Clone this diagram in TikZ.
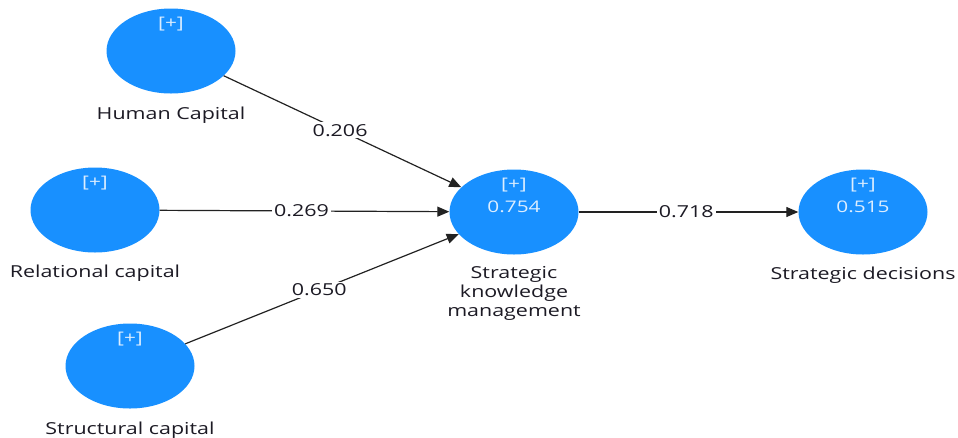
\documentclass[tikz,border=0pt]{standalone}
\usepackage{fontspec}
\setmainfont[FakeStretch=1.3]{Open Sans}
\usetikzlibrary{shapes.geometric,arrows.meta}
\definecolor{lvblue}{HTML}{1890FF}
\definecolor{lvtext}{HTML}{DCEEFF}
\definecolor{ink}{HTML}{1C1A24}
\definecolor{pathline}{HTML}{222222}
\tikzset{
  latent/.style={ellipse, fill=lvblue, minimum width=129pt, minimum height=85pt, inner sep=0pt},
  inner/.style={text=lvtext, font=\fontsize{16}{18}\selectfont, inner sep=0pt},
  caption/.style={text=ink, font=\fontsize{16.5}{19}\selectfont, align=center, inner sep=0pt},
  path/.style={draw=pathline, line width=1.2pt, -{Triangle[length=12pt,width=10pt]}},
  coef/.style={fill=white, text=ink, font=\fontsize{16.5}{18}\selectfont, inner sep=2pt, pos=0.49}
}
\begin{document}
\begin{tikzpicture}[x=1pt,y=-1pt]
\useasboundingbox (0,0) rectangle (958,437);

% constructs
\node[latent] (hc) at (171,51) {};
\node[latent] (rc) at (95,210) {};
\node[latent] (sc) at (130,366) {};
\node[latent] (skm) at (514,212) {};
\node[latent] (sd) at (863,212) {};

% markers and R-squared values
\node[inner] (hcp) at (171,24) {[+]};
\node[inner] (rcp) at (95,183) {[+]};
\node[inner] (scp) at (130,339) {[+]};
\node[inner] (skmp) at (514,185) {[+]};
\node[inner] (skmr) at (514,207) {0.754};
\node[inner] (sdp) at (863,185) {[+]};
\node[inner] (sdr) at (863,207) {0.515};

% construct names
\node[caption] (hcl) at (171,115) {Human Capital};
\node[caption] (rcl) at (95,273) {Relational capital};
\node[caption] (scl) at (130,430) {Structural capital};
\node[caption] (skml) at (514,293) {Strategic\\knowledge\\management};
\node[caption] (sdl) at (863,275) {Strategic decisions};

% structural paths with coefficients
\draw[path] (hc) -- node[coef] (c1) {0.206} (skm);
\draw[path] (rc) -- node[coef] (c2) {0.269} (skm);
\draw[path] (sc) -- node[coef] (c3) {0.650} (skm);
\draw[path] (skm) -- node[coef] (c4) {0.718} (sd);
\end{tikzpicture}
\end{document}
